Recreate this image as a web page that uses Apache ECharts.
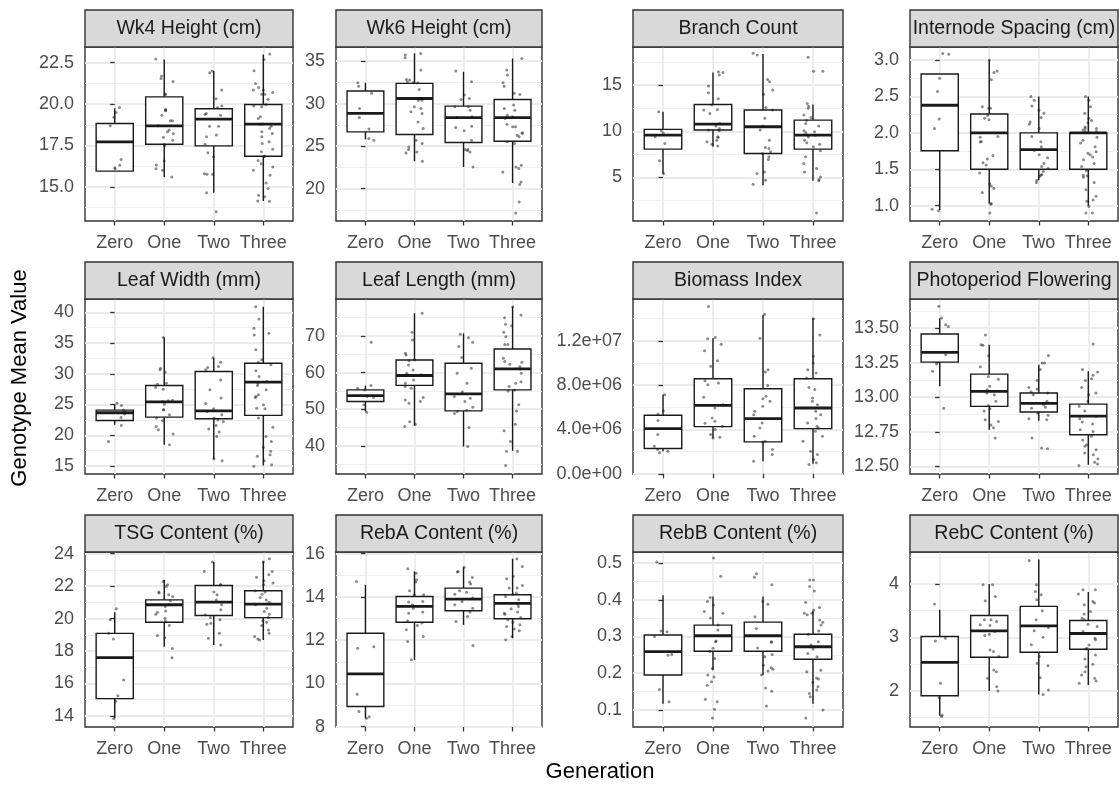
<!DOCTYPE html>
<html><head><meta charset="utf-8">
<script src="https://cdn.jsdelivr.net/npm/echarts@6/dist/echarts.min.js"></script>
<style>html,body{margin:0;padding:0;background:#fff}#c{width:1119px;height:786px}</style>
</head><body><div id="c"></div>
<script>
// ---------------- DATA ----------------
const categories = ['Zero', 'One', 'Two', 'Three'];
const panelTitles = ['Wk4 Height (cm)', 'Wk6 Height (cm)', 'Branch Count', 'Internode Spacing (cm)',
  'Leaf Width (mm)', 'Leaf Length (mm)', 'Biomass Index', 'Photoperiod Flowering',
  'TSG Content (%)', 'RebA Content (%)', 'RebB Content (%)', 'RebC Content (%)'];
const xTitle = 'Generation';
const yTitle = 'Genotype Mean Value';

// y-axis tick values and labels per panel
const yTicks = [
  [15, 17.5, 20, 22.5], [20, 25, 30, 35], [5, 10, 15], [1.0, 1.5, 2.0, 2.5, 3.0],
  [15, 20, 25, 30, 35, 40], [40, 50, 60, 70], [0, 4e6, 8e6, 1.2e7], [12.5, 12.75, 13.0, 13.25, 13.5],
  [14, 16, 18, 20, 22, 24], [8, 10, 12, 14, 16], [0.1, 0.2, 0.3, 0.4, 0.5], [2, 3, 4]
];
const yTickLabels = [
  ['15.0', '17.5', '20.0', '22.5'], ['20', '25', '30', '35'], ['5', '10', '15'], ['1.0', '1.5', '2.0', '2.5', '3.0'],
  ['15', '20', '25', '30', '35', '40'], ['40', '50', '60', '70'], ['0.0e+00', '4.0e+06', '8.0e+06', '1.2e+07'], ['12.50', '12.75', '13.00', '13.25', '13.50'],
  ['14', '16', '18', '20', '22', '24'], ['8', '10', '12', '14', '16'], ['0.1', '0.2', '0.3', '0.4', '0.5'], ['2', '3', '4']
];
const yRanges = [
  [12.94, 23.45], [16.2, 36.65], [0.3, 19.11], [0.79, 3.18],
  [13.7, 42.16], [32.3, 80.1], [-0.02e6, 15.78e6], [12.445, 13.71],
  [13.32, 24.1], [7.98, 16.08], [0.0536, 0.530], [1.32, 4.60]
];

// box statistics per generation: [lower whisker, Q1, median, Q3, upper whisker]
const wk4Box = [[15.95, 15.95, 17.72, 18.83, 19.75], [15.6, 17.58, 18.69, 20.44, 22.7], [14.64, 17.48, 19.09, 19.72, 22.0], [14.15, 16.85, 18.79, 19.98, 23.0]];
const wk6Box = [[25.8, 26.68, 28.84, 31.47, 32.45], [23.22, 26.36, 30.6, 32.37, 35.9], [22.55, 25.42, 28.36, 29.7, 33.74], [20.67, 25.58, 28.36, 30.48, 35.3]];
const branchBox = [[5.4, 8.07, 9.58, 10.2, 12.1], [8.32, 10.13, 10.78, 12.9, 16.34], [4.17, 7.6, 10.49, 12.3, 18.36], [4.64, 8.07, 9.58, 11.2, 12.9]];
const internodeBox = [[0.94, 1.755, 2.38, 2.81, 2.81], [1.03, 1.5, 2.0, 2.26, 3.0], [1.35, 1.5, 1.77, 2.0, 2.5], [1.0, 1.5, 2.0, 2.0, 2.5]];
const leafWidthBox = [[21.7, 22.41, 23.66, 24.09, 25.06], [18.46, 22.95, 25.44, 28.1, 35.9], [16.08, 22.68, 23.98, 30.37, 32.53], [15.1, 23.23, 28.64, 31.72, 40.9]];
const leafLengthBox = [[49.4, 52.1, 53.7, 55.27, 56.45], [45.5, 56.5, 59.2, 63.45, 76.2], [39.8, 49.55, 54.2, 62.55, 70.7], [38.6, 55.27, 61.0, 66.45, 78.0]];
const biomassBox = [[2.04e6, 2.28e6, 4.08e6, 5.28e6, 7.14e6], [3.24e6, 4.26e6, 6.18e6, 8.58e6, 12.24e6], [1.14e6, 2.88e6, 4.98e6, 7.68e6, 14.34e6], [0.9e6, 4.08e6, 5.94e6, 8.58e6, 14.04e6]];
const photoBox = [[13.08, 13.254, 13.324, 13.457, 13.57], [12.765, 12.934, 13.042, 13.167, 13.38], [12.83, 12.893, 12.955, 13.03, 13.235], [12.512, 12.729, 12.864, 12.95, 13.187]];
const tsgBox = [[13.88, 15.07, 17.59, 19.09, 20.39], [18.27, 19.77, 20.85, 21.15, 22.39], [18.37, 20.19, 21.01, 22.04, 23.48], [18.68, 20.06, 20.89, 21.71, 23.53]];
const rebABox = [[8.39, 8.93, 10.44, 12.32, 14.56], [11.09, 12.83, 13.56, 14.02, 15.18], [12.71, 13.36, 13.9, 14.41, 15.37], [12.09, 12.99, 13.7, 14.1, 15.77]];
const rebBBox = [[0.117, 0.195, 0.259, 0.304, 0.412], [0.208, 0.26, 0.302, 0.331, 0.409], [0.195, 0.26, 0.302, 0.339, 0.409], [0.117, 0.238, 0.272, 0.306, 0.37]];
const rebCBox = [[1.53, 1.906, 2.533, 3.016, 3.517], [1.994, 2.627, 3.122, 3.41, 4.0], [1.93, 2.72, 3.216, 3.58, 4.458], [2.107, 2.777, 3.072, 3.317, 3.85]];

// genotype mean values per generation (Zero, One, Two, Three)
const wk4Pts = [
  [19.8, 19.5, 19.2, 18.7, 16.65, 16.3, 16.15, 16.1],
  [22.72, 21.7, 21.55, 21.37, 20.6, 20.6, 19.68, 19.64, 19.6, 19.33, 19.0, 19.0, 18.7, 18.43, 18.33, 18.23, 18.0, 17.82, 17.58, 17.48, 16.57, 16.33, 16.1, 16.0, 15.6],
  [22.0, 21.9, 20.85, 20.32, 19.88, 19.8, 19.44, 19.33, 19.37, 18.67, 18.67, 18.13, 18.03, 17.58, 17.06, 16.82, 15.77, 15.77, 15.8, 14.64, 13.5],
  [23.02, 22.7, 22.02, 21.25, 21.0, 20.7, 20.6, 20.85, 20.85, 20.6, 20.3, 19.98, 19.88, 19.84, 19.23, 19.13, 18.8, 18.79, 18.67, 18.53, 18.33, 18.23, 18.03, 17.72, 17.62, 17.28, 17.12, 16.85, 16.85, 16.6, 16.4, 16.2, 16.0, 15.7, 15.24, 14.9, 14.5, 14.4, 14.15, 14.13]
];
const wk6Pts = [
  [32.05, 32.45, 31.2, 29.43, 28.36, 27.0, 25.7, 25.9],
  [35.9, 35.7, 35.4, 33.94, 32.84, 32.76, 32.57, 32.45, 32.45, 31.66, 30.6, 30.4, 30.4, 29.62, 29.42, 29.03, 28.84, 27.85, 27.07, 25.7, 25.3, 24.9, 24.6, 24.32, 24.2, 23.22],
  [33.82, 32.57, 31.0, 30.6, 30.48, 29.62, 29.62, 29.23, 28.44, 28.36, 27.34, 27.18, 26.8, 25.7, 24.6, 24.5, 24.3, 24.6, 22.55],
  [35.3, 33.94, 33.35, 32.45, 32.05, 31.2, 31.07, 29.82, 29.43, 29.23, 28.64, 28.44, 28.25, 27.58, 27.27, 27.27, 26.56, 26.28, 26.1, 26.48, 25.5, 25.3, 22.75, 22.55, 22.36, 21.96, 20.79, 20.5, 18.43, 17.14]
];
const branchPts = [
  [12.1, 10.05, 9.84, 9.4, 8.68, 6.8, 5.43],
  [16.44, 16.34, 16.08, 14.9, 14.17, 13.52, 12.83, 12.36, 12.3, 11.93, 10.85, 10.56, 10.3, 10.13, 10.05, 9.33, 9.4, 8.86, 8.6, 8.4, 9.04],
  [18.43, 18.25, 15.6, 15.36, 14.46, 14.0, 12.58, 12.3, 11.4, 10.56, 10.13, 9.04, 8.25, 8.14, 7.78, 7.6, 7.24, 6.95, 5.6, 5.43, 4.7, 4.28],
  [18.0, 16.5, 16.5, 13.0, 12.7, 12.5, 11.75, 11.5, 11.2, 10.85, 10.56, 10.05, 9.95, 9.84, 9.58, 9.4, 9.04, 8.75, 8.6, 8.32, 7.9, 7.24, 6.52, 5.97, 5.6, 5.07, 4.78, 4.64, 1.17]
];
const internodePts = [
  [3.09, 3.08, 2.75, 2.57, 2.19, 2.06, 0.95, 0.93],
  [3.0, 2.85, 2.83, 2.73, 2.34, 2.34, 2.36, 2.24, 2.2, 2.18, 1.95, 1.94, 1.88, 1.88, 1.69, 1.64, 1.59, 1.56, 1.45, 1.27, 1.3, 1.24, 1.18, 1.03, 1.02, 0.9],
  [2.5, 2.45, 2.37, 2.31, 2.27, 2.21, 2.15, 2.12, 2.06, 1.95, 1.88, 1.81, 1.76, 1.7, 1.66, 1.58, 1.54, 1.51, 1.47, 1.43, 1.42, 1.4, 1.35, 1.32],
  [2.5, 2.45, 2.36, 2.27, 2.2, 2.17, 2.14, 2.08, 2.06, 2.06, 2.04, 2.02, 2.02, 1.94, 1.9, 1.86, 1.81, 1.74, 1.72, 1.7, 1.67, 1.63, 1.58, 1.54, 1.48, 1.42, 1.39, 1.41, 1.32, 1.22, 1.13, 1.08, 1.06, 0.99, 0.9, 0.9]
];
const leafWidthPts = [
  [25.2, 24.85, 24.1, 23.77, 23.44, 22.9, 21.6, 19.0],
  [35.9, 30.9, 30.64, 30.26, 28.47, 28.31, 27.77, 27.5, 25.7, 25.6, 25.5, 25.06, 24.15, 24.15, 23.33, 22.8, 22.41, 21.44, 20.9, 20.2, 18.46],
  [32.6, 31.88, 31.18, 31.0, 30.64, 29.0, 27.4, 26.04, 25.17, 24.3, 23.87, 23.33, 22.8, 22.47, 22.25, 21.6, 21.0, 20.52, 19.8, 16.2, 15.87],
  [40.9, 38.9, 37.4, 36.6, 36.3, 33.9, 32.26, 31.88, 31.45, 30.48, 29.55, 28.74, 28.47, 28.1, 27.4, 26.58, 26.3, 26.15, 24.4, 24.3, 24.96, 22.8, 21.3, 19.8, 19.0, 18.03, 17.38, 16.84, 16.57, 15.87, 15.22, 14.95]
];
const leafLengthPts = [
  [68.3, 56.45, 55.7, 55.27, 53.45, 53.2, 51.2, 49.2],
  [76.2, 71.0, 68.9, 65.3, 64.8, 63.45, 63.2, 62.1, 60.7, 59.8, 59.4, 58.0, 57.1, 56.2, 55.7, 53.2, 52.5, 52.1, 51.6, 46.6, 45.9, 45.3],
  [70.5, 69.5, 68.3, 67.1, 64.1, 61.2, 59.8, 57.1, 54.8, 53.45, 53.0, 52.1, 50.5, 49.7, 49.4, 48.8, 45.0, 39.8],
  [78.0, 75.7, 75.0, 72.8, 73.2, 71.0, 69.8, 67.7, 67.7, 63.9, 62.8, 63.0, 62.3, 61.6, 61.0, 59.8, 57.5, 57.1, 56.2, 55.27, 55.0, 51.2, 49.5, 45.9, 44.1, 41.2, 38.5, 38.5, 34.6]
];
const biomassPts = [
  [7.14e6, 5.7e6, 5.4e6, 4.8e6, 3.54e6, 2.49e6, 2.19e6, 1.89e6, 2.04e6],
  [15.1e6, 12.3e6, 12.18e6, 11.7e6, 11.1e6, 10.2e6, 9.7e6, 8.4e6, 8.2e6, 8.04e6, 6.9e6, 6.24e6, 5.94e6, 5.04e6, 4.74e6, 4.56e6, 4.29e6, 3.99e6, 3.54e6, 3.24e6, 3.3e6],
  [14.4e6, 12.24e6, 9.39e6, 9.18e6, 7.98e6, 6.99e6, 6.78e6, 6.54e6, 6.09e6, 5.64e6, 5.34e6, 4.59e6, 4.14e6, 3.39e6, 2.94e6, 2.88e6, 2.19e6, 1.74e6, 1.14e6],
  [14.0e6, 12.54e6, 10.6e6, 10.0e6, 9.39e6, 9.1e6, 8.64e6, 7.8e6, 7.6e6, 6.84e6, 6.54e6, 6.24e6, 5.64e6, 5.34e6, 4.98e6, 4.59e6, 4.29e6, 4.14e6, 3.84e6, 3.39e6, 2.94e6, 2.04e6, 1.74e6, 1.29e6, 0.84e6, 0.99e6]
];
const photoPts = [
  [13.657, 13.572, 13.512, 13.524, 13.307, 13.24, 13.187, 12.92],
  [13.45, 13.38, 13.375, 13.30, 13.22, 13.15, 13.13, 13.08, 13.054, 13.03, 13.018, 12.97, 12.94, 12.917, 12.9, 12.837, 12.825, 12.8, 12.78, 12.705],
  [13.302, 13.247, 13.247, 13.2, 13.12, 13.07, 13.06, 13.04, 13.03, 13.018, 12.97, 12.945, 12.927, 12.92, 12.886, 12.87, 12.845, 12.837, 12.705, 12.633, 12.628],
  [13.384, 13.2, 13.182, 13.158, 13.134, 13.12, 13.07, 13.03, 13.018, 12.97, 12.934, 12.9, 12.862, 12.845, 12.82, 12.806, 12.765, 12.753, 12.717, 12.69, 12.657, 12.645, 12.62, 12.596, 12.584, 12.555, 12.53, 12.517, 12.507]
];
const tsgPts = [
  [20.6, 19.92, 19.09, 18.74, 16.21, 15.24, 14.9, 13.84],
  [22.29, 22.08, 21.98, 21.63, 21.57, 21.46, 21.36, 21.09, 20.85, 20.74, 20.47, 20.39, 20.27, 20.02, 19.86, 19.57, 18.95, 18.82, 18.16, 17.59],
  [23.48, 22.9, 22.08, 22.08, 21.63, 21.46, 21.15, 20.85, 20.54, 20.23, 20.06, 19.92, 19.71, 19.65, 19.09, 18.78, 18.37],
  [23.69, 23.48, 22.9, 22.7, 22.54, 22.33, 22.19, 22.08, 21.71, 21.63, 21.5, 21.3, 21.15, 21.01, 20.85, 20.64, 20.43, 20.27, 20.06, 19.77, 19.86, 19.57, 19.3, 19.09, 18.89, 18.74, 18.68]
];
const rebAPts = [
  [14.72, 11.63, 11.7, 9.5, 8.7, 8.46, 8.39],
  [15.3, 15.1, 14.8, 14.69, 14.29, 14.1, 14.1, 13.79, 13.76, 13.64, 13.48, 13.3, 13.25, 12.9, 12.79, 12.68, 12.48, 12.17, 11.94, 11.09],
  [15.37, 15.18, 15.15, 14.9, 14.69, 14.6, 14.22, 14.13, 14.29, 13.95, 13.79, 13.64, 13.48, 13.3, 12.86, 13.1, 11.75],
  [15.77, 15.41, 14.95, 14.84, 14.53, 14.41, 14.41, 14.18, 14.13, 14.02, 13.87, 13.67, 13.56, 13.45, 13.3, 13.25, 13.2, 13.05, 12.94, 12.83, 12.71, 12.63, 12.52, 12.43, 12.02, 12.17]
];
const rebBPts = [
  [0.503, 0.315, 0.313, 0.30, 0.251, 0.249, 0.156, 0.122],
  [0.514, 0.464, 0.406, 0.395, 0.386, 0.368, 0.363, 0.35, 0.331, 0.318, 0.286, 0.288, 0.268, 0.26, 0.24, 0.213, 0.195, 0.19, 0.177, 0.167, 0.129, 0.122, 0.102, 0.078],
  [0.461, 0.471, 0.441, 0.395, 0.388, 0.354, 0.322, 0.286, 0.284, 0.269, 0.251, 0.245, 0.215, 0.206, 0.195, 0.222, 0.211, 0.16, 0.151, 0.111],
  [0.454, 0.454, 0.436, 0.424, 0.393, 0.379, 0.372, 0.363, 0.359, 0.363, 0.345, 0.339, 0.331, 0.315, 0.306, 0.286, 0.277, 0.266, 0.254, 0.245, 0.208, 0.204, 0.187, 0.184, 0.175, 0.163, 0.154, 0.145, 0.136, 0.1, 0.078]
];
const rebCPts = [
  [3.624, 2.934, 2.984, 2.138, 1.868, 1.54, 1.517],
  [3.987, 3.987, 3.768, 3.686, 3.33, 3.33, 3.298, 3.223, 3.235, 3.11, 3.06, 3.034, 2.765, 2.734, 2.64, 2.389, 2.357, 2.232, 2.075, 1.994],
  [4.44, 3.987, 3.862, 3.8, 3.705, 3.5, 3.33, 3.185, 3.122, 3.0, 2.86, 2.64, 2.514, 2.47, 2.245, 2.013, 1.93],
  [3.893, 3.893, 3.812, 3.674, 3.643, 3.611, 3.486, 3.436, 3.36, 3.33, 3.248, 3.204, 3.11, 3.078, 2.953, 2.984, 2.859, 2.796, 2.784, 2.671, 2.596, 2.495, 2.451, 2.357, 2.295, 2.232, 2.182, 2.138]
];

const panelBoxes = [wk4Box, wk6Box, branchBox, internodeBox, leafWidthBox, leafLengthBox, biomassBox, photoBox, tsgBox, rebABox, rebBBox, rebCBox];
const panelPoints = [wk4Pts, wk6Pts, branchPts, internodePts, leafWidthPts, leafLengthPts, biomassPts, photoPts, tsgPts, rebAPts, rebBPts, rebCPts];

// ---------------- LAYOUT ----------------
const colLeft = [85, 336, 633, 910];
const colWidth = [208, 206, 210, 208];
const rowTop = [47, 299, 552];
const rowHeight = [174, 175, 175];
const stripH = 37;
const FONT = '"Liberation Sans", Arial, Helvetica, sans-serif';
const INK = '#1a1a1a';

// deterministic horizontal jitter (presentation only)
function jitter(g, i) {
  const s = Math.sin((i + 1) * 12.9898 + (g + 1) * 78.233) * 43758.5453;
  return (s - Math.floor(s) - 0.5) * 0.4;
}

const grids = [], xAxes = [], yAxes = [], series = [], graphics = [];

panelTitles.forEach((title, k) => {
  const r = Math.floor(k / 4), c = k % 4;
  const left = colLeft[c], top = rowTop[r], w = colWidth[c], h = rowHeight[r];
  grids.push({ left, top, width: w, height: h, show: true, backgroundColor: '#fff',
    borderColor: '#333', borderWidth: 1.4, containLabel: false, outerBoundsMode: 'none' });

  xAxes.push({
    gridIndex: k, type: 'value', min: -0.6, max: 3.6,
    axisLine: { show: false },
    axisTick: { show: true, customValues: [0, 1, 2, 3], length: 4.5, lineStyle: { color: '#333', width: 1.3 } },
    axisLabel: { customValues: [0, 1, 2, 3], formatter: v => categories[Math.round(v)],
      color: '#4d4d4d', fontSize: 18, fontFamily: FONT, margin: 13 },
    splitLine: { show: true, lineStyle: { color: '#ebebeb', width: 1.8 } }
  });

  const ticks = yTicks[k], labels = yTickLabels[k], rng = yRanges[k];
  const step = ticks[1] - ticks[0];
  const minors = [ticks[0] - step / 2].concat(ticks.map(t => t + step / 2))
    .filter(v => v > rng[0] && v < rng[1]);

  yAxes.push({
    gridIndex: k, type: 'value', min: rng[0], max: rng[1],
    axisLine: { show: false },
    axisTick: { show: true, customValues: ticks, length: 4.5, lineStyle: { color: '#333', width: 1.3 } },
    axisLabel: { customValues: ticks, color: '#4d4d4d', fontSize: 18, fontFamily: FONT, margin: 11,
      formatter: v => {
        let best = 0;
        ticks.forEach((t, i) => { if (Math.abs(t - v) < Math.abs(ticks[best] - v)) best = i; });
        return labels[best];
      } },
    splitLine: { show: true, lineStyle: { color: '#ebebeb', width: 1.8 } }
  });
  yAxes.push({
    gridIndex: k, type: 'value', min: rng[0], max: rng[1], position: 'left',
    axisLine: { show: false }, axisLabel: { show: false },
    axisTick: { show: false, customValues: minors },
    splitLine: { show: true, lineStyle: { color: '#efefef', width: 1 } }
  });

  const boxes = panelBoxes[k];
  series.push({
    type: 'custom', xAxisIndex: k, yAxisIndex: 2 * k, silent: true, z: 2,
    data: boxes.map((b, g) => [g].concat(b)),
    encode: { x: 0, y: [1, 2, 3, 4, 5] },
    renderItem: (params, api) => {
      const x = api.value(0);
      const pLo = api.coord([x, api.value(1)]);
      const pQ1 = api.coord([x, api.value(2)]);
      const pMed = api.coord([x, api.value(3)]);
      const pQ3 = api.coord([x, api.value(4)]);
      const pHi = api.coord([x, api.value(5)]);
      const hw = api.size([0.75, 0])[0] / 2;
      const st = { stroke: INK, lineWidth: 1.4, fill: null };
      return { type: 'group', children: [
        { type: 'line', shape: { x1: pHi[0], y1: pHi[1], x2: pQ3[0], y2: pQ3[1] }, style: st },
        { type: 'line', shape: { x1: pQ1[0], y1: pQ1[1], x2: pLo[0], y2: pLo[1] }, style: st },
        { type: 'rect', shape: { x: pQ3[0] - hw, y: pQ3[1], width: 2 * hw, height: pQ1[1] - pQ3[1] },
          style: { fill: '#fff', stroke: INK, lineWidth: 1.4 } },
        { type: 'line', shape: { x1: pMed[0] - hw, y1: pMed[1], x2: pMed[0] + hw, y2: pMed[1] },
          style: { stroke: INK, lineWidth: 2.8 } }
      ] };
    }
  });

  const pts = [];
  panelPoints[k].forEach((vals, g) => vals.forEach((v, i) => pts.push([g + jitter(g + 4 * k, i), v])));
  series.push({
    type: 'scatter', xAxisIndex: k, yAxisIndex: 2 * k, silent: true, z: 3,
    symbolSize: 3, itemStyle: { color: 'rgba(20,20,20,0.62)' }, data: pts
  });

  graphics.push({ type: 'rect', shape: { x: left, y: top - stripH, width: w, height: stripH },
    style: { fill: '#d9d9d9', stroke: '#333', lineWidth: 1.4 }, z: 5 });
  graphics.push({ type: 'text', x: left + w / 2, y: top - stripH / 2 + 0.5, z: 6,
    style: { text: title, font: '19.5px ' + FONT, fill: INK, align: 'center', verticalAlign: 'middle' } });
});

graphics.push({ type: 'text', x: 20, y: 378, rotation: Math.PI / 2, z: 6,
  style: { text: yTitle, font: '22px ' + FONT, fill: '#000', align: 'center', verticalAlign: 'middle' } });
graphics.push({ type: 'text', x: 600, y: 772, z: 6,
  style: { text: xTitle, font: '22px ' + FONT, fill: '#000', align: 'center', verticalAlign: 'middle' } });

const chart = echarts.init(document.getElementById('c'), null, { renderer: 'canvas', width: 1119, height: 786 });
chart.setOption({
  animation: false,
  backgroundColor: '#fff',
  grid: grids, xAxis: xAxes, yAxis: yAxes, series: series,
  graphic: graphics
});
</script></body></html>
